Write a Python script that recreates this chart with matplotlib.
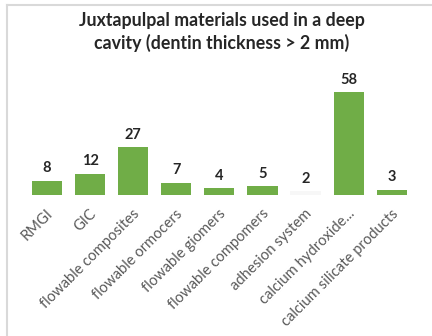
import matplotlib
matplotlib.use('Agg')
import matplotlib.pyplot as plt
import matplotlib.transforms as mtransforms
from matplotlib.lines import Line2D
import numpy as np

categories = ["RMGI", "GIC", "flowable composites", "flowable ormocers",
              "flowable giomers", "flowable compomers", "adhesion system",
              "calcium hydroxide...", "calcium silicate products"]
counts = [8, 12, 27, 7, 4, 5, 2, 58, 3]

GREEN = "#70AD47"
plt.rcParams['font.family'] = ['Lato', 'DejaVu Sans']

fig = plt.figure(figsize=(4.32, 3.36), dpi=100)
ax = fig.add_axes([0.0588, 0.4196, 0.898, 0.3277])

x = np.arange(len(categories))
colors = [GREEN] * len(counts)
colors[6] = "#f7f7f7"  # the "adhesion system" bar is barely visible
ax.bar(x, counts, width=0.7, color=colors, edgecolor="none")

for xi, v in zip(x, counts):
    ax.text(xi, v + 3, str(v), ha='center', va='bottom', fontsize=10.5,
            fontweight='bold', color='#262626')

ax.set_xlim(-0.5, len(categories) - 0.5)
ax.set_ylim(0, 62)
ax.set_xticks(x)
ax.set_xticklabels(categories, rotation=45, ha='right', va='center',
                   rotation_mode='anchor', fontsize=10.6, color='#595959')
ax.tick_params(axis='x', length=0, pad=12)
shift = mtransforms.ScaledTranslation(4 / 100, 0, fig.dpi_scale_trans)
for lbl in ax.get_xticklabels():
    lbl.set_transform(lbl.get_transform() + shift)
ax.set_yticks([])
for s in ax.spines.values():
    s.set_visible(False)

fig.text(0.513, 0.905, "Juxtapulpal materials used in a deep\ncavity (dentin thickness > 2 mm)",
         ha='center', va='center', fontsize=12.8, fontweight='bold',
         color='#262626', linespacing=1.3)

# light frame around the chart area
fig.add_artist(Line2D([7 / 432, 1], [1 - 5 / 336, 1 - 5 / 336], color='#d9d9d9', lw=1.5))
fig.add_artist(Line2D([7 / 432, 7 / 432], [0, 1 - 5 / 336], color='#d9d9d9', lw=1.5))

plt.savefig("out.png", dpi=100)
